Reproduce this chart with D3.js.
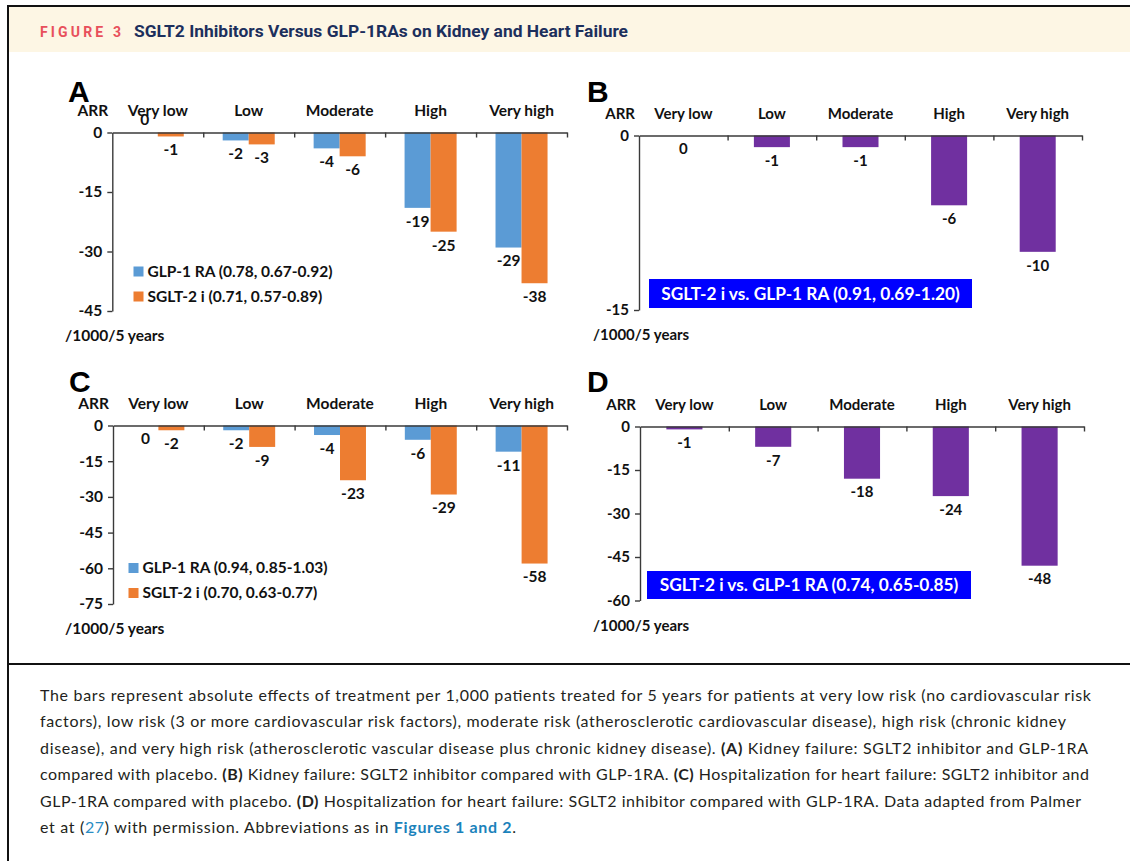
<!DOCTYPE html>
<html>
<head>
<meta charset="utf-8">
<script src="https://cdn.jsdelivr.net/npm/d3@7"></script>
<style>
  html, body { margin: 0; padding: 0; background: #ffffff; }
  svg { display: block; }
</style>
</head>
<body>
<script>
// ---------------- DATA ----------------
const categories = ["Very low", "Low", "Moderate", "High", "Very high"];
// Panel A: Kidney failure vs placebo
const kidneyGlp  = [0, -2, -4, -19, -29];
const kidneySglt = [-1, -3, -6, -25, -38];
// Panel B: Kidney failure, SGLT2 vs GLP-1RA
const kidneyDiff = [0, -1, -1, -6, -10];
// Panel C: HF hospitalization vs placebo
const hfGlp  = [0, -2, -4, -6, -11];
const hfSglt = [-2, -9, -23, -29, -58];
// Panel D: HF hospitalization, SGLT2 vs GLP-1RA
const hfDiff = [-1, -7, -18, -24, -48];

const ticksA = [0, -15, -30, -45];
const ticksB = [0, -15];
const ticksC = [0, -15, -30, -45, -60, -75];
const ticksD = [0, -15, -30, -45, -60];

const legendA = ["GLP-1 RA (0.78, 0.67-0.92)", "SGLT-2 i (0.71, 0.57-0.89)"];
const legendC = ["GLP-1 RA (0.94, 0.85-1.03)", "SGLT-2 i (0.70, 0.63-0.77)"];
const boxB = "SGLT-2 i vs. GLP-1 RA (0.91, 0.69-1.20)";
const boxD = "SGLT-2 i vs. GLP-1 RA (0.74, 0.65-0.85)";

const figLabel = "FIGURE 3";
const figTitle = "SGLT2 Inhibitors Versus GLP-1RAs on Kidney and Heart Failure";

const captionLines = [
  [["n", "The bars represent absolute effects of treatment per 1,000 patients treated for 5 years for patients at very low risk (no cardiovascular risk"]],
  [["n", "factors), low risk (3 or more cardiovascular risk factors), moderate risk (atherosclerotic cardiovascular disease), high risk (chronic kidney"]],
  [["n", "disease), and very high risk (atherosclerotic vascular disease plus chronic kidney disease). "], ["b", "(A)"], ["n", " Kidney failure: SGLT2 inhibitor and GLP-1RA"]],
  [["n", "compared with placebo. "], ["b", "(B)"], ["n", " Kidney failure: SGLT2 inhibitor compared with GLP-1RA. "], ["b", "(C)"], ["n", " Hospitalization for heart failure: SGLT2 inhibitor and"]],
  [["n", "GLP-1RA compared with placebo. "], ["b", "(D)"], ["n", " Hospitalization for heart failure: SGLT2 inhibitor compared with GLP-1RA. Data adapted from Palmer"]],
  [["n", "et at ("], ["l", "27"], ["n", ") with permission. Abbreviations as in "], ["bl", "Figures 1 and 2"], ["n", "."]]
];

// ---------------- STYLE / LAYOUT ----------------
const W = 1130, H = 861;
const BLUE = "#5b9bd5", ORANGE = "#ed7d31", PURPLE = "#7030a0", BOX = "#0000ff";
const CHART_FONT = "Lato, 'Open Sans', sans-serif";
const AXIS = "#3a3a3a";
const fmt = d => String(d);

const svg = d3.select("body").append("svg").attr("width", W).attr("height", H);

// frame
svg.append("rect").attr("x", 9).attr("y", 7).attr("width", W - 9).attr("height", 45).attr("fill", "#fdf6e4");
svg.append("line").attr("x1", 7).attr("x2", W).attr("y1", 6).attr("y2", 6).attr("stroke", "#111").attr("stroke-width", 2);
svg.append("line").attr("x1", 8).attr("x2", 8).attr("y1", 5).attr("y2", H).attr("stroke", "#111").attr("stroke-width", 2);
svg.append("line").attr("x1", 7).attr("x2", W).attr("y1", 664).attr("y2", 664).attr("stroke", "#111").attr("stroke-width", 2);

// header
svg.append("text").attr("x", 40).attr("y", 37)
  .attr("font-family", "Roboto, 'Open Sans', sans-serif").attr("font-weight", 700)
  .attr("font-size", 14).attr("fill", "#e8505b")
  .attr("textLength", 81).attr("lengthAdjust", "spacing")
  .text(figLabel);
svg.append("text").attr("x", 134).attr("y", 37)
  .attr("font-family", "'Liberation Sans Narrow', Roboto, sans-serif").attr("font-weight", 700)
  .attr("font-size", 16.5).attr("fill", "#1c2f5c")
  .attr("textLength", 494).attr("lengthAdjust", "spacingAndGlyphs")
  .text(figTitle);

// ---------------- PANELS ----------------
const panels = [
  { letter: "A", lx: 68, ly: 102, left: 112.3, right: 567, top: 132.5, bottom: 311, min: -45, ticks: ticksA, fs: 15.5,
    series: [kidneyGlp, kidneySglt], colors: [BLUE, ORANGE], zeroAbove: [true, false],
    legend: legendA, legX: 133.5, legY: 271.5, yearsX: 65, yearsY: 341 },
  { letter: "B", lx: 587, ly: 102, left: 639, right: 1082, top: 135.5, bottom: 310, min: -15, ticks: ticksB, fs: 15,
    series: [kidneyDiff], colors: [PURPLE], zeroAbove: [false],
    box: boxB, boxX: 649, boxY: 279, boxW: 323, boxH: 29, yearsX: 593, yearsY: 340 },
  { letter: "C", lx: 69, ly: 392, left: 113, right: 567, top: 425.5, bottom: 604, min: -75, ticks: ticksC, fs: 15.5,
    series: [hfGlp, hfSglt], colors: [BLUE, ORANGE], zeroAbove: [false, false],
    legend: legendC, legX: 128.5, legY: 568, yearsX: 65, yearsY: 634 },
  { letter: "D", lx: 587, ly: 392, left: 640, right: 1084, top: 426.5, bottom: 600.5, min: -60, ticks: ticksD, fs: 15,
    series: [hfDiff], colors: [PURPLE], zeroAbove: [false],
    box: boxD, boxX: 647, boxY: 571, boxW: 324, boxH: 28, yearsX: 593, yearsY: 631 }
];

panels.forEach(p => {
  const fs = p.fs;
  const g = svg.append("g").attr("font-family", CHART_FONT).attr("font-weight", 700);

  const y = d3.scaleLinear().domain([p.min, 0]).range([p.bottom, p.top]);
  const xCat = d3.scaleBand().domain(categories).range([p.left, p.right]);
  const xSub = d3.scaleBand().domain(d3.range(p.series.length))
    .range([0, xCat.bandwidth()])
    .paddingInner(0)
    .paddingOuter(p.series.length === 2 ? 0.748 : 0.73);

  // panel letter
  g.append("text").attr("x", p.lx).attr("y", p.ly)
    .attr("font-family", "'Liberation Sans', Arial, sans-serif").attr("font-weight", 700)
    .attr("font-size", 30).attr("fill", "#000").text(p.letter);

  // bars
  p.series.forEach((vals, si) => {
    g.append("g").selectAll("rect").data(vals).join("rect")
      .attr("x", (d, i) => xCat(categories[i]) + xSub(si))
      .attr("y", y(0))
      .attr("width", xSub.bandwidth())
      .attr("height", d => y(d) - y(0))
      .attr("fill", p.colors[si]);
  });

  // y axis
  const ya = g.append("g").attr("transform", `translate(${p.left},0)`)
    .call(d3.axisLeft(y).tickValues(p.ticks).tickSize(5).tickSizeOuter(0).tickPadding(5).tickFormat(fmt));
  ya.selectAll("path, line").attr("stroke", AXIS).attr("stroke-width", 1.4);
  ya.selectAll("text").attr("font-family", CHART_FONT).attr("font-weight", 700).attr("font-size", fs).attr("fill", "#111");

  // x axis (category boundaries)
  const xi = d3.scaleLinear().domain([0, categories.length]).range([p.left, p.right]);
  const xa = g.append("g").attr("transform", `translate(0,${p.top})`)
    .call(d3.axisBottom(xi).tickValues(d3.range(1, categories.length + 1)).tickSize(5).tickSizeOuter(0).tickFormat(""));
  xa.selectAll("path, line").attr("stroke", AXIS).attr("stroke-width", 1.4);

  // category labels
  g.append("g").selectAll("text").data(categories).join("text")
    .attr("x", d => xCat(d) + xCat.bandwidth() / 2)
    .attr("y", p.top - 17)
    .attr("text-anchor", "middle").attr("font-size", fs).attr("fill", "#111")
    .text(d => d);

  // ARR
  g.append("text").attr("x", p.left - 4).attr("y", p.top - 17)
    .attr("text-anchor", "end").attr("font-size", fs).attr("fill", "#111").text("ARR");

  // value labels
  p.series.forEach((vals, si) => {
    g.append("g").selectAll("text").data(vals).join("text")
      .attr("x", (d, i) => xCat(categories[i]) + xSub(si) + xSub.bandwidth() / 2)
      .attr("y", d => (d === 0 && p.zeroAbove[si]) ? y(0) - 12.5 : y(d) + 13.5)
      .attr("dy", "0.35em")
      .attr("text-anchor", "middle").attr("font-size", fs).attr("fill", "#111")
      .text(fmt);
  });

  // legend
  if (p.legend) {
    p.legend.forEach((t, i) => {
      const cy = p.legY + i * 25;
      g.append("rect").attr("x", p.legX).attr("y", cy - 5).attr("width", 10).attr("height", 10).attr("fill", p.colors[i]);
      g.append("text").attr("x", p.legX + 14).attr("y", cy).attr("dy", "0.35em")
        .attr("font-size", fs).attr("fill", "#111").text(t);
    });
  }

  // box
  if (p.box) {
    g.append("rect").attr("x", p.boxX).attr("y", p.boxY).attr("width", p.boxW).attr("height", p.boxH).attr("fill", BOX);
    g.append("text").attr("x", p.boxX + p.boxW / 2).attr("y", p.boxY + p.boxH / 2).attr("dy", "0.36em")
      .attr("text-anchor", "middle").attr("font-size", 17.3).attr("fill", "#fff").text(p.box);
  }

  // units
  g.append("text").attr("x", p.yearsX).attr("y", p.yearsY)
    .attr("font-size", fs).attr("fill", "#111").text("/1000/5 years");
});

// ---------------- CAPTION ----------------
const capWidths = [1051, 1026, 1048, 1049, 1041, 476];
captionLines.forEach((segs, li) => {
  const t = svg.append("text").attr("x", 40).attr("y", 701 + li * 26.4)
    .attr("font-family", "Lato, 'Open Sans', sans-serif").attr("font-size", 16).attr("fill", "#231f20")
    .attr("textLength", capWidths[li]).attr("lengthAdjust", "spacing");
  segs.forEach(([s, txt]) => {
    const ts = t.append("tspan").text(txt);
    if (s === "b" || s === "bl") ts.attr("font-weight", 700);
    if (s === "l") ts.attr("fill", "#2a8dc4");
    if (s === "bl") ts.attr("fill", "#1b82bb");
  });
});
</script>
</body>
</html>
